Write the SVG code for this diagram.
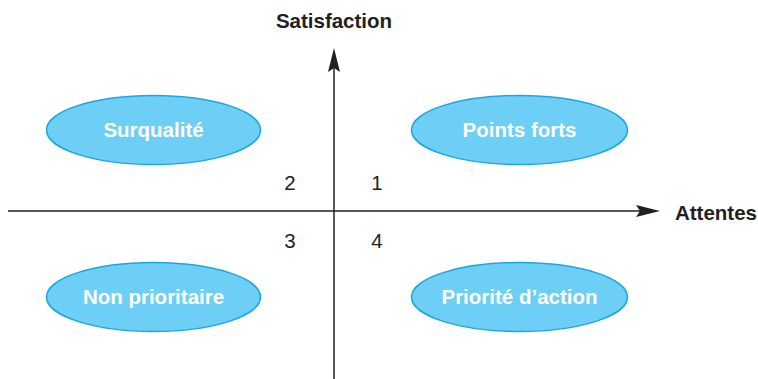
<svg xmlns="http://www.w3.org/2000/svg" width="758" height="379" viewBox="0 0 758 379">
<defs>
<style>
.el{fill:#6dcff6;stroke:#1ba6e0;stroke-width:1.5}
.lbl{font-family:"Liberation Sans",Arial,sans-serif;font-weight:bold;font-size:20.5px;fill:#fff;text-anchor:middle}
.ax{font-family:"Liberation Sans",Arial,sans-serif;font-weight:bold;font-size:20.5px;fill:#231f20}
.num{font-family:"Liberation Sans",Arial,sans-serif;font-size:20.5px;fill:#231f20;text-anchor:middle}
.line{stroke:#231f20;stroke-width:1.5;fill:none}
</style>
</defs>
<rect width="758" height="379" fill="#fff"/>
<g id="connectors">
<line class="line" x1="334" y1="379" x2="334" y2="66"/>
<polygon points="334,48 340,72 334,68 328,72" fill="#231f20"/>
<line class="line" x1="8" y1="211" x2="642" y2="211"/>
<polygon points="660,211 636,205 640,211 636,217" fill="#231f20"/>
</g>
<g id="axis-labels">
<text class="ax" x="334" y="28" text-anchor="middle">Satisfaction</text>
<text class="ax" x="757" y="220" text-anchor="end">Attentes</text>
</g>
<g id="quadrant-numbers">
<text class="num" x="290" y="190">2</text>
<text class="num" x="377" y="190">1</text>
<text class="num" x="290" y="248">3</text>
<text class="num" x="377" y="248">4</text>
</g>
<g id="surqualite">
<ellipse class="el" cx="153.5" cy="130" rx="107" ry="34.5"/>
<text class="lbl" x="153.5" y="137">Surqualité</text>
</g>
<g id="points-forts">
<ellipse class="el" cx="519.5" cy="130" rx="108" ry="34.5"/>
<text class="lbl" x="519.5" y="137">Points forts</text>
</g>
<g id="non-prioritaire">
<ellipse class="el" cx="153.5" cy="297" rx="107" ry="34.5"/>
<text class="lbl" x="153.5" y="304">Non prioritaire</text>
</g>
<g id="priorite-action">
<ellipse class="el" cx="519.5" cy="297" rx="108" ry="34.5"/>
<text class="lbl" x="519.5" y="304">Priorité d’action</text>
</g>
</svg>
